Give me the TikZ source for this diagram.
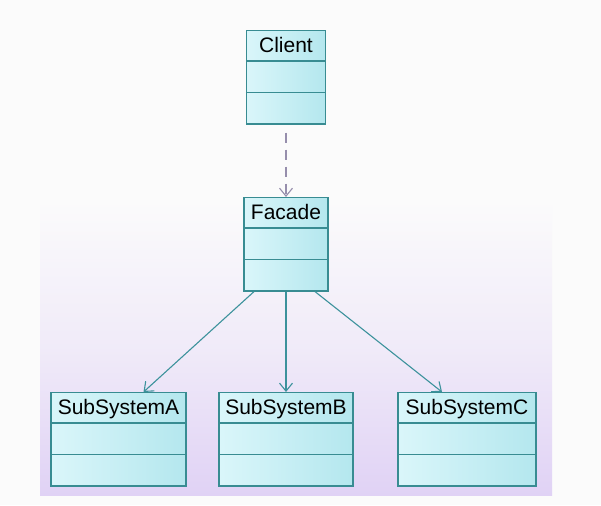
\documentclass[tikz,border=0pt]{standalone}
\usepackage{fontspec}
\setmainfont{Liberation Sans}
\usepackage{tikz}
\usetikzlibrary{shapes.multipart}
\usetikzlibrary{arrows.meta}
\usepackage{xcolor}

\definecolor{umlborder}{RGB}{56,140,146}
\definecolor{umlfillA}{RGB}{218,246,250}
\definecolor{umlfillB}{RGB}{180,231,238}
\definecolor{umlline}{RGB}{60,146,156}
\definecolor{deparrow}{RGB}{150,142,172}
\definecolor{lavender}{RGB}{224,210,245}
\definecolor{paper}{RGB}{251,251,251}

\newcommand{\classname}[1]{\rule[-8pt]{0pt}{29pt}#1}
\newcommand{\emptypart}{\rule{0pt}{30pt}}

\begin{document}
\begin{tikzpicture}[x=1pt,y=-1pt]
          \useasboundingbox (0,0) rectangle (601,505);
          \fill[paper] (0,0) rectangle (601,505);
          \shade[top color=paper,bottom color=lavender,middle color=paper!60!lavender] (40,200) rectangle (552,495);
          \begin{scope}[every node/.style={rectangle split,rectangle split parts=3,draw=umlborder,line width=1.4pt,
              left color=umlfillA,right color=umlfillB,inner xsep=0pt,inner ysep=0pt,align=center,anchor=north,
              font=\fontsize{21}{24}\selectfont}]
            \node[text width=79pt] (client) at (286, 30) {\classname{Client}\nodepart{second}\emptypart\nodepart{third}\emptypart};
            \node[text width=84pt] (facade) at (286, 197) {\classname{Facade}\nodepart{second}\emptypart\nodepart{third}\emptypart};
            \node[text width=135pt] (suba) at (118.5, 392) {\classname{SubSystemA}\nodepart{second}\emptypart\nodepart{third}\emptypart};
            \node[text width=134pt] (subb) at (286, 392) {\classname{SubSystemB}\nodepart{second}\emptypart\nodepart{third}\emptypart};
            \node[text width=138pt] (subc) at (467, 392) {\classname{SubSystemC}\nodepart{second}\emptypart\nodepart{third}\emptypart};
          \end{scope}
          % dividers as thick as the border
          \foreach \c in {client,facade,suba,subb,subc} {
            \draw[umlborder,line width=1.4pt] (\c.text split west) -- (\c.text split east);
            \draw[umlborder,line width=1.4pt] (\c.second split west) -- (\c.second split east);
          }
          \begin{scope}[every path/.style={->},>={Straight Barb[length=8pt,width=13pt]},line width=1.1pt]
            \draw[deparrow,dash pattern=on 10pt off 7pt,shorten <=8pt] (client) -- (facade);
            \draw[umlline] ([xshift=-32pt]facade.south) -- ([xshift=25pt]suba.north);
            \draw[umlline] (facade) -- (subb);
            \draw[umlline] ([xshift=29pt]facade.south) -- ([xshift=-25pt]subc.north);
          \end{scope}
        \end{tikzpicture}
\end{document}
